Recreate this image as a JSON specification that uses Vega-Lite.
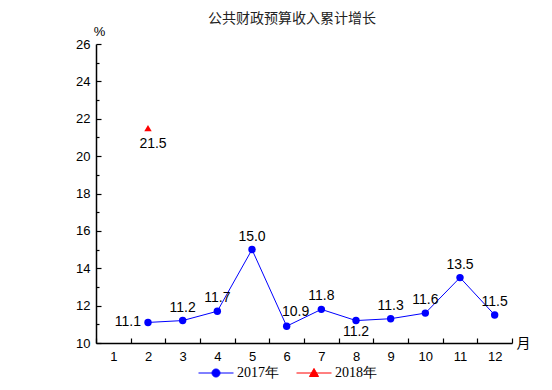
{
  "$schema": "https://vega.github.io/schema/vega-lite/v6.json",
  "width": 416,
  "height": 299,
  "autosize": "none",
  "padding": {"left": 96, "top": 44, "right": 40, "bottom": 47},
  "background": "white",
  "title": {
    "text": "公共财政预算收入累计增长",
    "font": "Noto Sans CJK SC",
    "fontSize": 14,
    "fontWeight": "normal",
    "color": "#222222",
    "anchor": "middle",
    "dx": -12,
    "offset": -1
  },
  "config": {
    "view": {"stroke": null},
    "axis": {
      "labelFont": "Liberation Sans",
      "labelFontSize": 13,
      "labelColor": "#000000",
      "domainColor": "#000000",
      "domainWidth": 1.5,
      "tickColor": "#000000",
      "tickWidth": 1.2,
      "grid": false,
      "titleFontWeight": "normal",
      "titleColor": "#000000"
    }
  },
  "data": {
    "values": [
      {"month": 2, "value": 11.1, "series": "2017年"},
      {"month": 3, "value": 11.2, "series": "2017年"},
      {"month": 4, "value": 11.7, "series": "2017年"},
      {"month": 5, "value": 15.0, "series": "2017年"},
      {"month": 6, "value": 10.9, "series": "2017年"},
      {"month": 7, "value": 11.8, "series": "2017年"},
      {"month": 8, "value": 11.2, "series": "2017年"},
      {"month": 9, "value": 11.3, "series": "2017年"},
      {"month": 10, "value": 11.6, "series": "2017年"},
      {"month": 11, "value": 13.5, "series": "2017年"},
      {"month": 12, "value": 11.5, "series": "2017年"},
      {"month": 2, "value": 21.5, "series": "2018年"}
    ]
  },
  "encoding": {
    "x": {
      "field": "month",
      "type": "ordinal",
      "scale": {"type": "band", "domain": [1,2,3,4,5,6,7,8,9,10,11,12], "paddingInner": 0, "paddingOuter": 0},
      "axis": {
        "title": "月",
        "titleFont": "Noto Sans CJK SC",
        "titleFontSize": 14,
        "titleAngle": 0,
        "titleX": 427,
        "titleY": 0,
        "titleAlign": "center",
        "titleBaseline": "middle",
        "labelAngle": 0,
        "tickBand": "extent",
        "tickSize": -5,
        "labelPadding": 12
      }
    },
    "y": {
      "field": "value",
      "type": "quantitative",
      "scale": {"domain": [10, 26], "nice": false, "zero": false},
      "axis": {
        "title": "%",
        "titleFont": "Liberation Sans",
        "titleFontSize": 13,
        "titleAngle": 0,
        "titleX": 3,
        "titleY": -13,
        "titleAlign": "center",
        "titleBaseline": "middle",
        "values": [10,11,12,13,14,15,16,17,18,19,20,21,22,23,24,25,26],
        "labelExpr": "datum.value % 2 === 0 ? datum.label : ''",
        "tickSize": {"condition": {"test": "datum.value % 2 === 0", "value": -5}, "value": -3},
        "labelPadding": 11
      }
    }
  },
  "layer": [
    {
      "transform": [{"filter": "datum.series === '2017年'"}],
      "mark": {"type": "line", "strokeWidth": 1, "color": "#0000FF"},
      "encoding": {}
    },
    {
      "transform": [{"filter": "datum.series === '2017年'"}],
      "mark": {"type": "point", "filled": true, "size": 55, "opacity": 1, "shape": "circle", "color": "#0000FF"},
      "encoding": {}
    },
    {
      "transform": [{"filter": "datum.series === '2018年'"}],
      "mark": {"type": "point", "filled": true, "size": 55, "opacity": 1, "shape": "triangle-up", "color": "#FF0000"},
      "encoding": {}
    },
    {
      "mark": {"type": "point", "filled": false, "size": 0, "strokeWidth": 1},
      "encoding": {
        "fill": {"field": "series", "type": "nominal", "scale": {"domain": ["2017年", "2018年"], "range": ["#0000FF", "#FF0000"]},
          "legend": {"title": null, "orient": "none", "direction": "horizontal", "legendX": 102, "legendY": 311, "labelFont": "Liberation Serif", "labelFontSize": 14, "labelColor": "#000000", "labelOffset": 3, "columnPadding": 15, "symbolSize": 1225, "symbolStrokeWidth": 1, "symbolOpacity": 1}},
        "stroke": {"field": "series", "type": "nominal", "scale": {"domain": ["2017年", "2018年"], "range": ["#0000FF", "#FF0000"]},
          "legend": {"title": null, "orient": "none", "direction": "horizontal", "legendX": 102, "legendY": 311, "labelFont": "Liberation Serif", "labelFontSize": 14, "labelColor": "#000000", "labelOffset": 3, "columnPadding": 15, "symbolSize": 1225, "symbolStrokeWidth": 1, "symbolOpacity": 1}},
        "shape": {"field": "series", "type": "nominal", "scale": {"domain": ["2017年", "2018年"], "range": ["M-1,0L1,0M-0.23,0A0.23,0.23 0 1,1 0.23,0A0.23,0.23 0 1,1 -0.23,0Z", "M-1,0L1,0M-0.26,0.2L0,-0.26L0.26,0.2Z"]},
          "legend": {"title": null, "orient": "none", "direction": "horizontal", "legendX": 102, "legendY": 311, "labelFont": "Liberation Serif", "labelFontSize": 14, "labelColor": "#000000", "labelOffset": 3, "columnPadding": 15, "symbolSize": 1225, "symbolStrokeWidth": 1, "symbolOpacity": 1}}
      }
    },
    {
      "transform": [{"filter": "datum.series === '2017年' && datum.month === 2"}],
      "mark": {"type": "text", "font": "Liberation Sans", "fontSize": 14, "align": "right", "baseline": "middle", "dx": -7, "color": "#000000"},
      "encoding": {"text": {"field": "value", "type": "quantitative", "format": ".1f"}}
    },
    {
      "transform": [{"filter": "datum.series === '2017年' && datum.month === 8"}],
      "mark": {"type": "text", "font": "Liberation Sans", "fontSize": 14, "align": "center", "baseline": "top", "dy": 4, "color": "#000000"},
      "encoding": {"text": {"field": "value", "type": "quantitative", "format": ".1f"}}
    },
    {
      "transform": [{"filter": "datum.series === '2017年' && datum.month === 6"}],
      "mark": {"type": "text", "font": "Liberation Sans", "fontSize": 14, "align": "center", "baseline": "bottom", "dy": -7, "dx": 9, "color": "#000000"},
      "encoding": {"text": {"field": "value", "type": "quantitative", "format": ".1f"}}
    },
    {
      "transform": [{"filter": "datum.series === '2017年' && datum.month !== 2 && datum.month !== 8 && datum.month !== 6"}],
      "mark": {"type": "text", "font": "Liberation Sans", "fontSize": 14, "align": "center", "baseline": "bottom", "dy": -6, "color": "#000000"},
      "encoding": {"text": {"field": "value", "type": "quantitative", "format": ".1f"}}
    },
    {
      "transform": [{"filter": "datum.series === '2018年'"}],
      "mark": {"type": "text", "font": "Liberation Sans", "fontSize": 14, "align": "center", "baseline": "top", "dy": 9, "dx": 5, "color": "#000000"},
      "encoding": {"text": {"field": "value", "type": "quantitative", "format": ".1f"}}
    }
  ]
}
